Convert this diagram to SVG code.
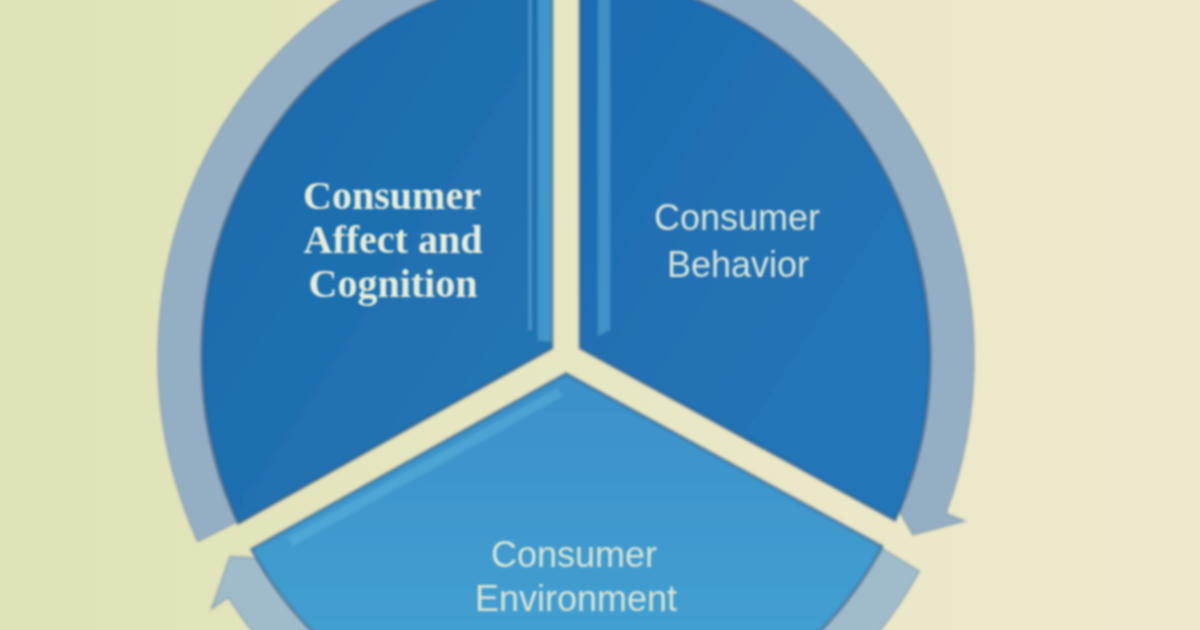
<svg xmlns="http://www.w3.org/2000/svg" width="1200" height="630" viewBox="0 0 1200 630">
  <defs>
    <linearGradient id="bg" x1="0" y1="0" x2="1" y2="0">
      <stop offset="0" stop-color="#dfe2b5"/>
      <stop offset="0.5" stop-color="#e8e7c4"/>
      <stop offset="1" stop-color="#eee9cd"/>
    </linearGradient>
    <linearGradient id="gBottom" x1="0" y1="0" x2="0" y2="1">
      <stop offset="0" stop-color="#3a90c8"/>
      <stop offset="1" stop-color="#46a5d4"/>
    </linearGradient>
    <linearGradient id="gLeft" x1="0" y1="0" x2="1" y2="1">
      <stop offset="0" stop-color="#1c68ab"/>
      <stop offset="1" stop-color="#2277b5"/>
    </linearGradient>
    <linearGradient id="gRight" x1="0" y1="0" x2="1" y2="1">
      <stop offset="0" stop-color="#1d6cb0"/>
      <stop offset="1" stop-color="#2477b8"/>
    </linearGradient>
    <filter id="soft" x="-10%" y="-10%" width="120%" height="120%">
      <feGaussianBlur stdDeviation="1.6"/>
    </filter>
    <filter id="softText" x="-10%" y="-20%" width="120%" height="140%">
      <feGaussianBlur stdDeviation="0.9"/>
    </filter>
    <style>
      .wedge { stroke: #2b4f7c; stroke-opacity: 0.55; stroke-width: 3; }
      .ring { fill: #94afc4; stroke: #6f8aa6; stroke-opacity: 0.5; stroke-width: 2; }
      .serif { font-family: "Liberation Serif", "Times New Roman", serif; font-weight: bold; font-size: 40px; fill: #e6ecd9; text-anchor: middle; }
      .sans { font-family: "Liberation Sans", Arial, sans-serif; font-size: 36px; fill: #d6e4d6; text-anchor: middle; }
    </style>
  </defs>

  <rect x="0" y="0" width="1200" height="630" fill="url(#bg)"/>

  <g id="connectors" filter="url(#soft)">
    <g transform="translate(566 357) scale(1 1.05)">
      <path id="arrow-behavior-to-environment" class="ring" d="M 15.88 -363.65 A 364 364 0 0 1 338.91 132.82 L 320.28 125.52 L 346.93 169.21 L 398.49 156.17 L 379.87 148.87 A 408 408 0 0 0 17.80 -407.61 Z"/>
      <path id="arrow-environment-to-affect" class="ring" fill="#a3bfcd" style="fill:#a0bccb" d="M 315.23 182.0 A 364 364 0 0 1 -301.46 204.07 L -284.89 192.86 L -335.96 190.07 L -354.46 239.95 L -337.90 228.74 A 408 408 0 0 0 353.34 204.0 Z"/>
      <path id="arrow-affect-to-behavior" class="ring" d="M -328.54 156.71 A 364 364 0 0 1 -38.68 -361.94 L -36.55 -342.05 L -10.11 -385.87 L -45.48 -425.58 L -43.35 -405.69 A 408 408 0 0 0 -368.26 175.65 Z"/>
    </g>
  </g>

  <g id="node-affect-cognition">
    <g filter="url(#soft)">
      <path class="wedge" fill="url(#gLeft)" transform="translate(566 357) scale(1 1.05)" d="M -14 -8.41 L -327.72 158.4 A 364 364 0 0 1 -14 -363.73 Z"/>
      <polygon points="538,-10 551,-10 551,342 538,340" fill="#5fb4dc" opacity="0.55"/>
      <line x1="530" y1="-10" x2="530" y2="330" stroke="#8fd0e6" stroke-width="2" opacity="0.5"/>
    </g>
    <g filter="url(#softText)">
      <text class="serif" x="392" y="209">Consumer</text>
      <text class="serif" x="393" y="253">Affect and</text>
      <text class="serif" x="393" y="297">Cognition</text>
    </g>
  </g>

  <g id="node-behavior">
    <g filter="url(#soft)">
      <path class="wedge" fill="url(#gRight)" transform="translate(566 357) scale(1 1.05)" d="M 14 -8.5 L 14 -363.73 A 364 364 0 0 1 329.1 155.53 Z"/>
      <polygon points="598,-10 610,-10 610,330 598,336" fill="#5fb4dc" opacity="0.5"/>
    </g>
    <g filter="url(#softText)">
      <text class="sans" x="737" y="230">Consumer</text>
      <text class="sans" x="738" y="277">Behavior</text>
    </g>
  </g>

  <g id="node-environment">
    <g filter="url(#soft)">
      <path class="wedge" fill="url(#gBottom)" transform="translate(566 357) scale(1 1.05)" d="M 0.07 15.82 L 316.17 180.37 A 364 364 0 0 1 -314.58 183.12 Z"/>
      <line x1="560" y1="392" x2="290" y2="542" stroke="#6cc3e4" stroke-width="10" opacity="0.35"/>
    </g>
    <g filter="url(#softText)">
      <text class="sans" x="574" y="567">Consumer</text>
      <text class="sans" x="576" y="611">Environment</text>
    </g>
  </g>
</svg>
